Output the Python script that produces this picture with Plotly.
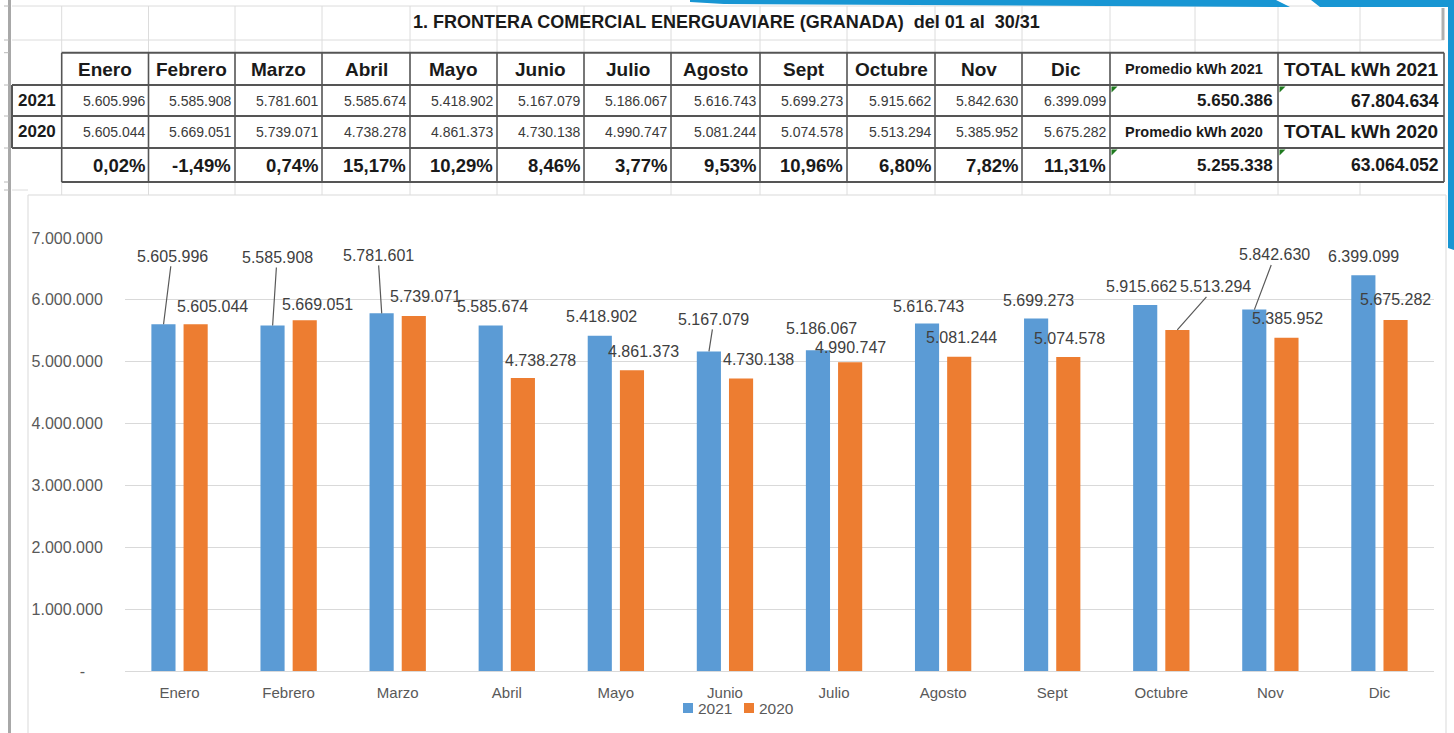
import plotly.graph_objects as go

# ---------------- data ----------------
months = ["Enero", "Febrero", "Marzo", "Abril", "Mayo", "Junio",
          "Julio", "Agosto", "Sept", "Octubre", "Nov", "Dic"]
series_names = ["2021", "2020"]
kwh_2021 = [5605996, 5585908, 5781601, 5585674, 5418902, 5167079,
            5186067, 5616743, 5699273, 5915662, 5842630, 6399099]
kwh_2020 = [5605044, 5669051, 5739071, 4738278, 4861373, 4730138,
            4990747, 5081244, 5074578, 5513294, 5385952, 5675282]
pct_change = ["0,02%", "-1,49%", "0,74%", "15,17%", "10,29%", "8,46%",
              "3,77%", "9,53%", "10,96%", "6,80%", "7,82%", "11,31%"]
promedio_labels = ["Promedio kWh 2021", "Promedio kWh 2020"]
promedio_values = [5650386, 5255338]
total_labels = ["TOTAL kWh 2021", "TOTAL kWh 2020"]
total_values = [67804634, 63064052]
title_text = "1. FRONTERA COMERCIAL ENERGUAVIARE (GRANADA)  del 01 al  30/31"
y_tick_values = [0, 1000000, 2000000, 3000000, 4000000, 5000000, 6000000, 7000000]

# ---------------- styles / label placement (pixels) ----------------
BLUE, ORANGE = "#5B9BD5", "#ED7D31"
FONT = "Liberation Sans, Arial, sans-serif"
LBL_COLOR = "#404040"
AX_COLOR = "#595959"
lbl_dx_2021 = [8.5, 4.4, -3.7, 2.2, 2, 5, 3, 1, 2, -4, 20.6, 0.5]
lbl_dy_2021 = [-68, -68, -58, -18.5, -19, -32, -22, -17.5, -18.4, -18.4, -54.6, -18.5]
leader_2021 = [True, True, True, False, False, True, False, False, False, False, True, False]
lbl_dx_2020 = [16.5, 12.4, 11.3, 18.2, 12, 18, 0, 2, 1, 38, 1.6, 0.5]
lbl_dy_2020 = [-17.6, -16.3, -19.3, -17, -18.6, -19.4, -15, -19.4, -19, -43, -19.8, -20]
leader_2020 = [False, False, False, False, False, False, False, False, False, True, False, False]
BAR_SHIFT = 16

W, H = 1454, 733
ML, MR, MT, MB = 125, 20, 238, 62
PW = W - ML - MR
PH = H - MT - MB


def px(x):
    return (x - ML) / PW


def py(y):
    return (H - MB - y) / PH


def fmt(v):
    return f"{int(v):,}".replace(",", ".")


fig = go.Figure()
fig.add_trace(go.Bar(x=months, y=kwh_2021, name=series_names[0], marker_color=BLUE,
                     marker_line_width=0))
fig.add_trace(go.Bar(x=months, y=kwh_2020, name=series_names[1], marker_color=ORANGE,
                     marker_line_width=0))

annotations = []
shapes = []

# data labels
for vals, dxs, dys, leads, shift in [
        (kwh_2021, lbl_dx_2021, lbl_dy_2021, leader_2021, -BAR_SHIFT),
        (kwh_2020, lbl_dx_2020, lbl_dy_2020, leader_2020, BAR_SHIFT)]:
    for m, v, dx, dy, ld in zip(months, vals, dxs, dys, leads):
        annotations.append(dict(
            x=m, y=v, xref="x", yref="y", xshift=shift,
            text=fmt(v), showarrow=True, ax=dx, ay=dy, axref="pixel", ayref="pixel",
            arrowhead=0, arrowwidth=1.2, standoff=0, startstandoff=0,
            arrowcolor="#595959" if ld else "rgba(0,0,0,0)",
            font=dict(family=FONT, size=16, color=LBL_COLOR)))


def line(x0, y0, x1, y1, color, width):
    shapes.append(dict(type="line", xref="paper", yref="paper",
                       x0=px(x0), y0=py(y0), x1=px(x1), y1=py(y1),
                       line=dict(color=color, width=width), layer="above"))


def txt(x, y, s, size, bold=False, color="#1a1a1a", xanchor="center"):
    annotations.append(dict(xref="paper", yref="paper", x=px(x), y=py(y),
                            text=f"<b>{s}</b>" if bold else s, showarrow=False,
                            xanchor=xanchor, yanchor="middle",
                            font=dict(family=FONT, size=size, color=color)))


def poly(points, color):
    d = "M " + " L ".join(f"{px(a)},{py(b)}" for a, b in points) + " Z"
    shapes.append(dict(type="path", xref="paper", yref="paper", path=d,
                       fillcolor=color, line=dict(width=0), layer="above"))


# ---- spreadsheet background grid ----
GRID = "#dcdcdc"
col_edges = [12, 61.7, 148.5, 235, 322, 410, 497, 584, 671, 760, 847, 935, 1022, 1110, 1278, 1444]
extra_cols = [1195, 1360]
for x in col_edges[1:-1] + extra_cols:
    line(x, 6, x, 52.7, GRID, 1)
    line(x, 182, x, 195, GRID, 1)
line(12, 6, 1444, 6, GRID, 1)
line(12, 40, 1444, 40, GRID, 1)
line(12, 190, 28, 190, GRID, 1)
line(9.5, 0, 9.5, 733, "#a8a8a8", 3)
for yy in [6, 40, 52.7, 85, 116, 148, 182, 190]:
    line(4, yy, 9, yy, "#b8b8b8", 1)
line(1443, 8, 1443, 40, "#b0b0b0", 3)

# ---- table ----
TB = "#555555"
line(61.7, 52.7, 1444, 52.7, TB, 2)
line(12, 85, 1444, 85, TB, 2)
line(12, 116, 1444, 116, TB, 2)
line(12, 148, 1444, 148, TB, 2)
line(61.7, 182, 1444, 182, TB, 2)
line(12, 85, 12, 148, TB, 2)
for x in col_edges[1:]:
    line(x, 52.7, x, 182, TB, 1.6)

txt(726, 22, title_text, 18, bold=True)
row_y = [69, 100.5, 132, 165]
for i, m in enumerate(months):
    x0, x1 = col_edges[i + 1], col_edges[i + 2]
    txt((x0 + x1) / 2, row_y[0], m, 19, bold=True)
    txt(x1 - 2, row_y[1], fmt(kwh_2021[i]), 14, color="#3a3a3a", xanchor="right")
    txt(x1 - 2, row_y[2], fmt(kwh_2020[i]), 14, color="#3a3a3a", xanchor="right")
    txt(x1 - 2, row_y[3], pct_change[i], 18.5, bold=True, xanchor="right")
txt(36.5, row_y[1], series_names[0], 17, bold=True)
txt(36.5, row_y[2], series_names[1], 17, bold=True)

pc0, pc1, tc1 = col_edges[13], col_edges[14], col_edges[15]
txt((pc0 + pc1) / 2, row_y[0], promedio_labels[0], 14.5, bold=True)
txt((pc0 + pc1) / 2, row_y[2], promedio_labels[1], 14.5, bold=True)
txt((pc1 + tc1) / 2, row_y[0], total_labels[0], 19, bold=True)
txt((pc1 + tc1) / 2, row_y[2], total_labels[1], 19, bold=True)
txt(pc1 - 3, row_y[1], fmt(promedio_values[0]), 17, bold=True, xanchor="right")
txt(pc1 - 3, row_y[3], fmt(promedio_values[1]), 17, bold=True, xanchor="right")
txt(tc1 - 3, row_y[1], fmt(total_values[0]), 17.5, bold=True, xanchor="right")
txt(tc1 - 3, row_y[3], fmt(total_values[1]), 17.5, bold=True, xanchor="right")
for (xx, yy) in [(pc0, 85), (pc1, 85), (pc0, 148), (pc1, 148)]:
    poly([(xx + 1.5, yy + 1.5), (xx + 7.5, yy + 1.5), (xx + 1.5, yy + 7.5)], "#1f7a1f")

# ---- chart frame ----
shapes.append(dict(type="rect", xref="paper", yref="paper",
                   x0=px(28), y0=py(745), x1=px(1446), y1=py(195),
                   line=dict(color="#d9d9d9", width=1), fillcolor="rgba(0,0,0,0)",
                   layer="below"))

# ---- manual legend ----
for (sx, tx, name, col) in [(683, 696, series_names[0], BLUE), (744, 757, series_names[1], ORANGE)]:
    shapes.append(dict(type="rect", xref="paper", yref="paper",
                       x0=px(sx), x1=px(sx + 10), y0=py(713), y1=py(703),
                       fillcolor=col, line=dict(width=0), layer="above"))
    txt(tx, 708, name, 15.5, color=AX_COLOR, xanchor="left")

# ---- blue frame decoration ----
DEC = "#1896D3"
poly([(690, 0), (1276, 0), (1290, 7), (724, 4), (690, 2)], DEC)
poly([(1311, 0), (1454, 0), (1454, 250), (1448, 248), (1448, 7), (1320, 7)], DEC)

fig.update_layout(
    width=W, height=H, autosize=False,
    margin=dict(l=ML, r=MR, t=MT, b=MB, pad=0),
    paper_bgcolor="white", plot_bgcolor="white",
    barmode="group", bargap=0.41, bargroupgap=0.25,
    showlegend=False,
    annotations=annotations, shapes=shapes,
    font=dict(family=FONT, color=AX_COLOR),
    xaxis=dict(type="category", showgrid=False, showline=False, zeroline=False,
               ticks="outside", ticklen=8, tickcolor="rgba(0,0,0,0)",
               tickfont=dict(family=FONT, size=15, color=AX_COLOR)),
    yaxis=dict(range=[0, 7000000], tickvals=y_tick_values,
               ticktext=["-\u00a0\u00a0\u00a0\u00a0"] + [fmt(v) for v in y_tick_values[1:]],
               showgrid=True, gridcolor="#d9d9d9", gridwidth=1,
               zeroline=True, zerolinecolor="#d9d9d9", zerolinewidth=1,
               showline=False, ticks="outside", ticklen=18, tickcolor="rgba(0,0,0,0)",
               tickfont=dict(family=FONT, size=16, color=AX_COLOR)),
)

fig.write_html("out.html", config={"displayModeBar": False},
               post_script="document.body.style.margin='0';document.body.style.overflow='hidden';")
